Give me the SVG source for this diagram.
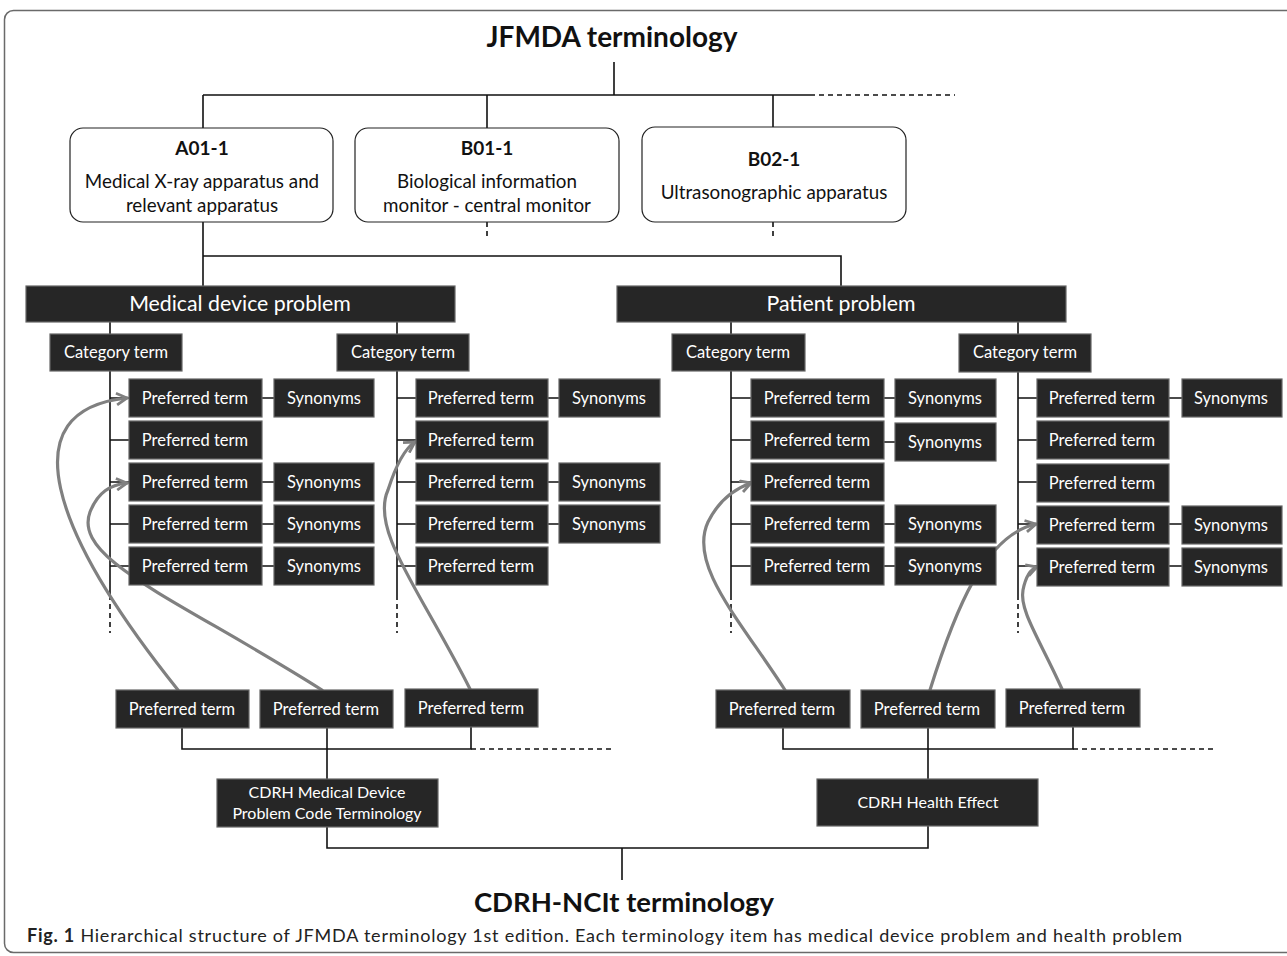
<svg xmlns="http://www.w3.org/2000/svg" width="1287" height="956" viewBox="0 0 1287 956">
<style>
.frame{fill:none;stroke:#6a6a6a;stroke-width:1.5}
.ln{fill:none;stroke:#111;stroke-width:1.6}
.dash{fill:none;stroke:#111;stroke-width:1.6;stroke-dasharray:5 4}
.arr{fill:none;stroke:#808080;stroke-width:3.2;stroke-linecap:round}
.wb{fill:#fff;stroke:#222;stroke-width:1.2}
.db{fill:#262626;stroke:#666;stroke-width:1.2}
.t{font-family:Lato,"Liberation Sans",sans-serif;fill:#fff;text-anchor:middle}
.s17{font-size:16.5px}
.s15{font-size:16px}
.s20{font-size:21.3px}
.k{font-family:Lato,"Liberation Sans",sans-serif;fill:#111;text-anchor:middle}
.bt{font-size:18.8px}
</style>
<defs>
<marker id="ah" viewBox="0 0 12 12" refX="10" refY="6" markerWidth="14" markerHeight="14" markerUnits="userSpaceOnUse" orient="auto">
<path d="M1,1 L10,6 L1,11" fill="none" stroke="#808080" stroke-width="2.4" stroke-linejoin="miter"/>
</marker>
</defs>
<rect class="frame" x="4.5" y="10.5" width="1320" height="942" rx="9"/>

<text class="k" x="612" y="47" font-size="28" font-weight="bold">JFMDA terminology</text>

<g id="connectors">
<path class="ln" d="M614,62 V95 M203,95 H810 M203,95 V128 M487,95 V128 M773,95 V127"/>
<path class="dash" d="M810,95 H955"/>
<path class="dash" d="M487,222 V240 M773,222 V240"/>
<path class="ln" d="M203,222 V286 M203,256 H841 V286"/>
<path class="ln" d="M110,322 V334 M397,322 V334 M731,322 V334 M1018,322 V334"/>
<path class="ln" d="M110,371 V595 M110,398 H129 M110,440 H129 M110,482 H129 M110,524 H129 M110,566 H129 M262,398 H274 M262,482 H274 M262,524 H274 M262,566 H274"/>
<path class="dash" d="M110,595 V633"/>
<path class="ln" d="M397,371 V595 M397,398 H416 M397,440 H416 M397,482 H416 M397,524 H416 M397,566 H416 M548,398 H559 M548,482 H559 M548,524 H559"/>
<path class="dash" d="M397,595 V633"/>
<path class="ln" d="M731,371 V595 M731,398 H751 M731,440 H751 M731,482 H751 M731,524 H751 M731,566 H751 M884,398 H895 M884,442 H895 M884,524 H895 M884,566 H895"/>
<path class="dash" d="M731,595 V633"/>
<path class="ln" d="M1018,372 V595 M1018,398 H1037 M1018,440 H1037 M1018,482 H1037 M1018,524 H1037 M1018,566 H1037 M1169,398 H1182 M1169,524 H1182 M1169,566 H1182"/>
<path class="dash" d="M1018,595 V633"/>
<path class="ln" d="M182,728 V749 H471 V727 M327,728 V779"/>
<path class="dash" d="M471,749 H611"/>
<path class="ln" d="M783,728 V749 H1073 V727 M928,728 V779"/>
<path class="dash" d="M1073,749 H1215"/>
<path class="ln" d="M327,827 V848 H928 V826 M622,848 V880"/>
<path class="arr" marker-end="url(#ah)" d="M178,690 C 50,530 10,410 127,398"/>
<path class="arr" marker-end="url(#ah)" d="M322,690 C 180,600 72,560 90,512 C 98,492 110,485 127,483"/>
<path class="arr" marker-end="url(#ah)" d="M470,689 C 420,590 370,530 388,490 C 396,465 404,449 415,442"/>
<path class="arr" marker-end="url(#ah)" d="M785,690 C 740,620 688,565 708,522 C 718,502 734,489 751,483"/>
<path class="arr" marker-end="url(#ah)" d="M930,690 C 955,610 985,535 1036,524"/>
<path class="arr" marker-end="url(#ah)" d="M1062,689 C 1040,640 1019,610 1023,590 C 1026,575 1031,569 1037,567"/>
</g>

<g id="A01-1"><rect class="wb" x="70" y="128" width="263" height="94" rx="13"/>
<text class="k" x="202" y="155" font-size="19" font-weight="bold">A01-1</text>
<text class="k bt" x="202" y="188">Medical X-ray apparatus and</text>
<text class="k bt" x="202" y="212">relevant apparatus</text></g>
<g id="B01-1"><rect class="wb" x="355" y="128" width="264" height="94" rx="13"/>
<text class="k" x="487" y="155" font-size="19" font-weight="bold">B01-1</text>
<text class="k bt" x="487" y="188">Biological information</text>
<text class="k bt" x="487" y="212">monitor - central monitor</text></g>
<g id="B02-1"><rect class="wb" x="642" y="127" width="264" height="95" rx="13"/>
<text class="k" x="774" y="166" font-size="19" font-weight="bold">B02-1</text>
<text class="k bt" x="774" y="199">Ultrasonographic apparatus</text></g>

<g id="medical-device-problem"><rect class="db" x="26" y="286" width="429" height="36"/><text class="t s20" x="240" y="311">Medical device problem</text></g>
<g id="patient-problem"><rect class="db" x="617" y="286" width="449" height="36"/><text class="t s20" x="841" y="311">Patient problem</text></g>

<g id="cat1"><rect class="db" x="50" y="334" width="132" height="37"/><text class="t s17" x="116" y="358">Category term</text></g>
<g id="cat2"><rect class="db" x="337" y="334" width="132" height="37"/><text class="t s17" x="403" y="358">Category term</text></g>
<g id="cat3"><rect class="db" x="672" y="334" width="133" height="37"/><text class="t s17" x="738" y="358">Category term</text></g>
<g id="cat4"><rect class="db" x="959" y="334" width="132" height="38"/><text class="t s17" x="1025" y="358">Category term</text></g>

<g id="pt1-1"><rect class="db" x="129" y="379" width="133" height="38"/><text class="t s17" x="195" y="404">Preferred term</text></g>
<g id="syn1-1"><rect class="db" x="274" y="379" width="100" height="38"/><text class="t s17" x="324" y="404">Synonyms</text></g>
<g id="pt1-2"><rect class="db" x="129" y="421" width="133" height="38"/><text class="t s17" x="195" y="446">Preferred term</text></g>
<g id="pt1-3"><rect class="db" x="129" y="463" width="133" height="38"/><text class="t s17" x="195" y="488">Preferred term</text></g>
<g id="syn1-3"><rect class="db" x="274" y="463" width="100" height="38"/><text class="t s17" x="324" y="488">Synonyms</text></g>
<g id="pt1-4"><rect class="db" x="129" y="505" width="133" height="38"/><text class="t s17" x="195" y="530">Preferred term</text></g>
<g id="syn1-4"><rect class="db" x="274" y="505" width="100" height="38"/><text class="t s17" x="324" y="530">Synonyms</text></g>
<g id="pt1-5"><rect class="db" x="129" y="547" width="133" height="38"/><text class="t s17" x="195" y="572">Preferred term</text></g>
<g id="syn1-5"><rect class="db" x="274" y="547" width="100" height="38"/><text class="t s17" x="324" y="572">Synonyms</text></g>

<g id="pt2-1"><rect class="db" x="416" y="379" width="132" height="38"/><text class="t s17" x="481" y="404">Preferred term</text></g>
<g id="syn2-1"><rect class="db" x="559" y="379" width="101" height="38"/><text class="t s17" x="609" y="404">Synonyms</text></g>
<g id="pt2-2"><rect class="db" x="416" y="421" width="132" height="38"/><text class="t s17" x="481" y="446">Preferred term</text></g>
<g id="pt2-3"><rect class="db" x="416" y="463" width="132" height="38"/><text class="t s17" x="481" y="488">Preferred term</text></g>
<g id="syn2-3"><rect class="db" x="559" y="463" width="101" height="38"/><text class="t s17" x="609" y="488">Synonyms</text></g>
<g id="pt2-4"><rect class="db" x="416" y="505" width="132" height="38"/><text class="t s17" x="481" y="530">Preferred term</text></g>
<g id="syn2-4"><rect class="db" x="559" y="505" width="101" height="38"/><text class="t s17" x="609" y="530">Synonyms</text></g>
<g id="pt2-5"><rect class="db" x="416" y="547" width="132" height="38"/><text class="t s17" x="481" y="572">Preferred term</text></g>

<g id="pt3-1"><rect class="db" x="751" y="379" width="133" height="38"/><text class="t s17" x="817" y="404">Preferred term</text></g>
<g id="syn3-1"><rect class="db" x="895" y="379" width="101" height="38"/><text class="t s17" x="945" y="404">Synonyms</text></g>
<g id="pt3-2"><rect class="db" x="751" y="421" width="133" height="38"/><text class="t s17" x="817" y="446">Preferred term</text></g>
<g id="syn3-2"><rect class="db" x="895" y="423" width="101" height="38"/><text class="t s17" x="945" y="448">Synonyms</text></g>
<g id="pt3-3"><rect class="db" x="751" y="463" width="133" height="38"/><text class="t s17" x="817" y="488">Preferred term</text></g>
<g id="pt3-4"><rect class="db" x="751" y="505" width="133" height="38"/><text class="t s17" x="817" y="530">Preferred term</text></g>
<g id="syn3-4"><rect class="db" x="895" y="505" width="101" height="38"/><text class="t s17" x="945" y="530">Synonyms</text></g>
<g id="pt3-5"><rect class="db" x="751" y="547" width="133" height="38"/><text class="t s17" x="817" y="572">Preferred term</text></g>
<g id="syn3-5"><rect class="db" x="895" y="547" width="101" height="38"/><text class="t s17" x="945" y="572">Synonyms</text></g>

<g id="pt4-1"><rect class="db" x="1037" y="379" width="132" height="38"/><text class="t s17" x="1102" y="404">Preferred term</text></g>
<g id="syn4-1"><rect class="db" x="1182" y="379" width="100" height="38"/><text class="t s17" x="1231" y="404">Synonyms</text></g>
<g id="pt4-2"><rect class="db" x="1037" y="421" width="132" height="38"/><text class="t s17" x="1102" y="446">Preferred term</text></g>
<g id="pt4-3"><rect class="db" x="1037" y="464" width="132" height="38"/><text class="t s17" x="1102" y="489">Preferred term</text></g>
<g id="pt4-4"><rect class="db" x="1037" y="506" width="132" height="38"/><text class="t s17" x="1102" y="531">Preferred term</text></g>
<g id="syn4-4"><rect class="db" x="1182" y="506" width="100" height="38"/><text class="t s17" x="1231" y="531">Synonyms</text></g>
<g id="pt4-5"><rect class="db" x="1037" y="548" width="132" height="38"/><text class="t s17" x="1102" y="573">Preferred term</text></g>
<g id="syn4-5"><rect class="db" x="1182" y="548" width="100" height="38"/><text class="t s17" x="1231" y="573">Synonyms</text></g>

<g id="cpt1"><rect class="db" x="116" y="690" width="133" height="38"/><text class="t s17" x="182" y="715">Preferred term</text></g>
<g id="cpt2"><rect class="db" x="260" y="690" width="133" height="38"/><text class="t s17" x="326" y="715">Preferred term</text></g>
<g id="cpt3"><rect class="db" x="405" y="689" width="133" height="38"/><text class="t s17" x="471" y="714">Preferred term</text></g>
<g id="cpt4"><rect class="db" x="716" y="690" width="134" height="38"/><text class="t s17" x="782" y="715">Preferred term</text></g>
<g id="cpt5"><rect class="db" x="861" y="690" width="134" height="38"/><text class="t s17" x="927" y="715">Preferred term</text></g>
<g id="cpt6"><rect class="db" x="1006" y="689" width="134" height="38"/><text class="t s17" x="1072" y="714">Preferred term</text></g>

<g id="cdrh-mdp"><rect class="db" x="217" y="779" width="221" height="48"/>
<text class="t s15" x="327" y="798">CDRH Medical Device</text>
<text class="t s15" x="327" y="819">Problem Code Terminology</text></g>
<g id="cdrh-he"><rect class="db" x="817" y="779" width="221" height="47"/>
<text class="t s15" x="928" y="808">CDRH Health Effect</text></g>

<text class="k" x="624" y="912" font-size="27.5" font-weight="bold">CDRH-NCIt terminology</text>
<text x="27" y="942" font-family="Lato,'Liberation Sans',sans-serif" font-size="18" fill="#222" textLength="1155" lengthAdjust="spacing"><tspan font-weight="bold">Fig. 1</tspan>  Hierarchical structure of JFMDA terminology 1st edition. Each terminology item has medical device problem and health problem</text>
</svg>
